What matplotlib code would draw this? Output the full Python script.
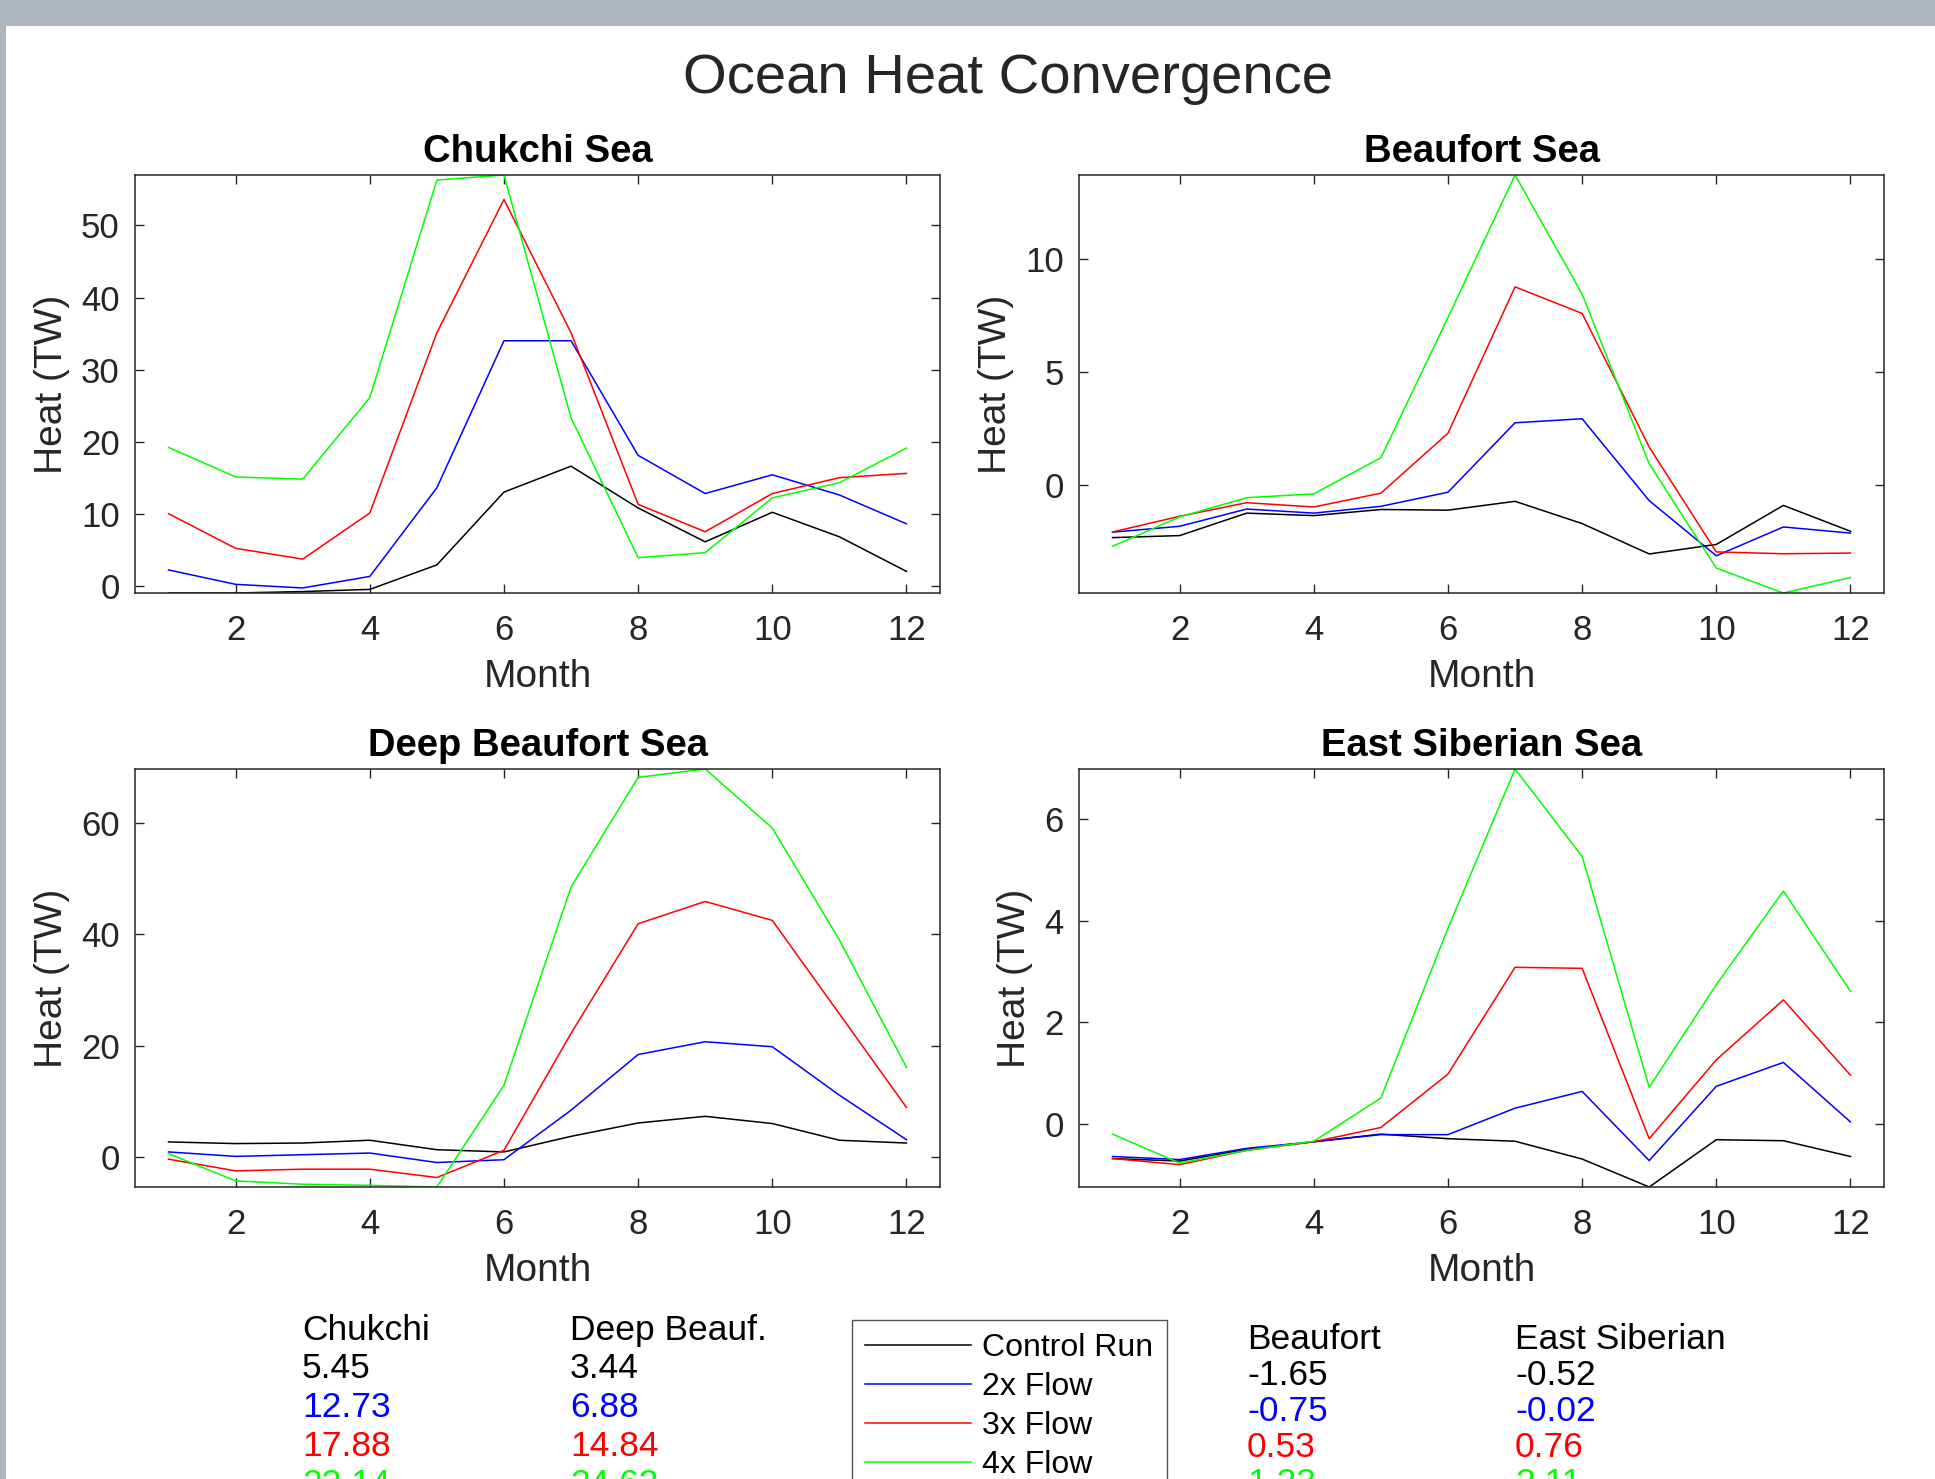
import matplotlib
matplotlib.use("Agg")
import matplotlib.pyplot as plt
from matplotlib.patches import Rectangle

plt.rcParams["font.family"] = ["Liberation Sans", "DejaVu Sans"]

# monthly ocean heat convergence (TW)
months = [1, 2, 3, 4, 5, 6, 7, 8, 9, 10, 11, 12]
run_names = ["Control Run", "2x Flow", "3x Flow", "4x Flow"]
run_colors = ["#000000", "#0000FF", "#FF0000", "#00FF00"]

chukchi_ctrl = [-1.0, -1.0, -0.8, -0.5, 2.9, 13.0, 16.6, 10.8, 6.1, 10.2, 6.8, 2.0]
chukchi_2x = [2.2, 0.2, -0.3, 1.3, 13.6, 34.0, 34.0, 18.1, 12.8, 15.4, 12.6, 8.6]
chukchi_3x = [10.0, 5.2, 3.7, 10.1, 35.1, 53.6, 35.1, 11.3, 7.5, 12.8, 15.0, 15.6]
chukchi_4x = [19.2, 15.1, 14.8, 26.1, 56.3, 57.0, 23.3, 3.9, 4.6, 12.2, 14.3, 19.1]

beaufort_ctrl = [-2.30, -2.21, -1.22, -1.33, -1.06, -1.09, -0.70, -1.68, -3.02, -2.60, -0.88, -2.02]
beaufort_2x = [-2.06, -1.80, -1.04, -1.22, -0.92, -0.30, 2.76, 2.94, -0.67, -3.10, -1.83, -2.10]
beaufort_3x = [-2.05, -1.36, -0.76, -0.95, -0.34, 2.30, 8.75, 7.58, 1.69, -2.93, -3.01, -2.98]
beaufort_4x = [-2.68, -1.39, -0.54, -0.37, 1.22, 7.40, 13.68, 8.43, 0.95, -3.64, -4.74, -4.06]

deep_ctrl = [2.7, 2.4, 2.5, 3.0, 1.3, 0.9, 3.7, 6.1, 7.3, 6.0, 3.0, 2.5]
deep_2x = [0.9, 0.1, 0.4, 0.7, -1.0, -0.5, 8.4, 18.4, 20.7, 19.8, 11.1, 3.1]
deep_3x = [-0.4, -2.5, -2.2, -2.2, -3.7, 1.2, 22.2, 41.9, 45.9, 42.5, 25.7, 8.9]
deep_4x = [0.6, -4.3, -4.9, -5.1, -5.4, 12.9, 48.5, 68.2, 69.7, 59.1, 39.0, 16.1]

esib_ctrl = [-0.68, -0.73, -0.50, -0.35, -0.20, -0.29, -0.34, -0.69, -1.24, -0.31, -0.33, -0.64]
esib_2x = [-0.64, -0.70, -0.48, -0.35, -0.21, -0.21, 0.31, 0.64, -0.72, 0.74, 1.21, 0.04]
esib_3x = [-0.68, -0.80, -0.52, -0.35, -0.07, 0.98, 3.08, 3.06, -0.29, 1.26, 2.44, 0.96]
esib_4x = [-0.20, -0.77, -0.52, -0.34, 0.51, 3.85, 6.98, 5.26, 0.72, 2.74, 4.58, 2.61]

# annual means printed under the panels
chukchi_means = [5.45, 12.73, 17.88, 22.14]
deep_means = [3.44, 6.88, 14.84, 24.62]
beaufort_means = [-1.65, -0.75, 0.53, 1.23]
esib_means = [-0.52, -0.02, 0.76, 2.11]

month_ticks = [2, 4, 6, 8, 10, 12]
chukchi_yticks = [0, 10, 20, 30, 40, 50]
beaufort_yticks = [0, 5, 10]
deep_yticks = [0, 20, 40, 60]
esib_yticks = [0, 2, 4, 6]

W, H = 1935, 1479
fig = plt.figure(figsize=(W / 100, H / 100), dpi=100, facecolor="white")
# screenshot frame: grey strip along the top and the left edge
fig.patches.append(Rectangle((0, 1 - 26 / H), 1, 26 / H, transform=fig.transFigure,
                             facecolor="#aeb6bf", edgecolor="none", zorder=-10))
fig.patches.append(Rectangle((0, 0), 6 / W, 1, transform=fig.transFigure,
                             facecolor="#aeb6bf", edgecolor="none", zorder=-10))

DARK = "#262626"


def panel(rect_px, title, series, yticks):
    left, top, right, bottom = rect_px
    ax = fig.add_axes([left / W, 1 - bottom / H, (right - left) / W, (bottom - top) / H])
    lines = []
    for vals, c in zip(series, run_colors):
        ln, = ax.plot(months, vals, color=c, linewidth=1.1)
        lines.append(ln)
    lo = min(min(s) for s in series)
    hi = max(max(s) for s in series)
    ax.set_xlim(0.5, 12.5)
    ax.set_ylim(lo, hi)
    ax.set_xticks(month_ticks)
    ax.set_yticks(yticks)
    ax.tick_params(direction="in", top=True, right=True, length=6.5, width=1.0,
                   labelsize=25, colors=DARK, pad=11)
    ax.tick_params(axis="x", pad=15)
    for sp in ax.spines.values():
        sp.set_color(DARK)
        sp.set_linewidth(1.1)
    ax.set_title(title, fontsize=27.5, fontweight="bold", pad=9.5)
    ax.set_xlabel("Month", fontsize=28, color=DARK, labelpad=9)
    ax.set_ylabel("Heat (TW)", fontsize=28, color=DARK, labelpad=8)
    return lines


lines = panel((135, 175, 940, 593), "Chukchi Sea",
              [chukchi_ctrl, chukchi_2x, chukchi_3x, chukchi_4x], chukchi_yticks)
panel((1079, 175, 1884, 593), "Beaufort Sea",
      [beaufort_ctrl, beaufort_2x, beaufort_3x, beaufort_4x], beaufort_yticks)
panel((135, 769, 940, 1187), "Deep Beaufort Sea",
      [deep_ctrl, deep_2x, deep_3x, deep_4x], deep_yticks)
panel((1079, 769, 1884, 1187), "East Siberian Sea",
      [esib_ctrl, esib_2x, esib_3x, esib_4x], esib_yticks)

fig.text(1008 / W, 1 - 79 / H, "Ocean Heat Convergence", fontsize=40.5, color=DARK,
         ha="center", va="center")


def mean_column(x_px, y0_px, step_px, name, means):
    fig.text(x_px / W, 1 - y0_px / H, name, fontsize=25.5, color="black", va="baseline")
    for i, (m, c) in enumerate(zip(means, run_colors)):
        fig.text(x_px / W, 1 - (y0_px + (i + 1) * step_px) / H, "{:.2f}".format(m),
                 fontsize=25.5, color=c, va="baseline")


mean_column(302, 1340, 38.5, "Chukchi", chukchi_means)
mean_column(570, 1340, 38.5, "Deep Beauf.", deep_means)
mean_column(1247, 1349, 36, "Beaufort", beaufort_means)
mean_column(1515, 1349, 36, "East Siberian", esib_means)

leg = fig.legend(lines, run_names, loc="upper left", bbox_to_anchor=(852 / W, 1 - 1320 / H),
                 fontsize=23, frameon=True, fancybox=False, handlelength=3.3,
                 handletextpad=0.35, labelspacing=0.28, borderpad=0.42, borderaxespad=0)
leg.get_frame().set_edgecolor(DARK)
leg.get_frame().set_linewidth(1.0)

fig.savefig("out.png", dpi=100, facecolor=fig.get_facecolor())
